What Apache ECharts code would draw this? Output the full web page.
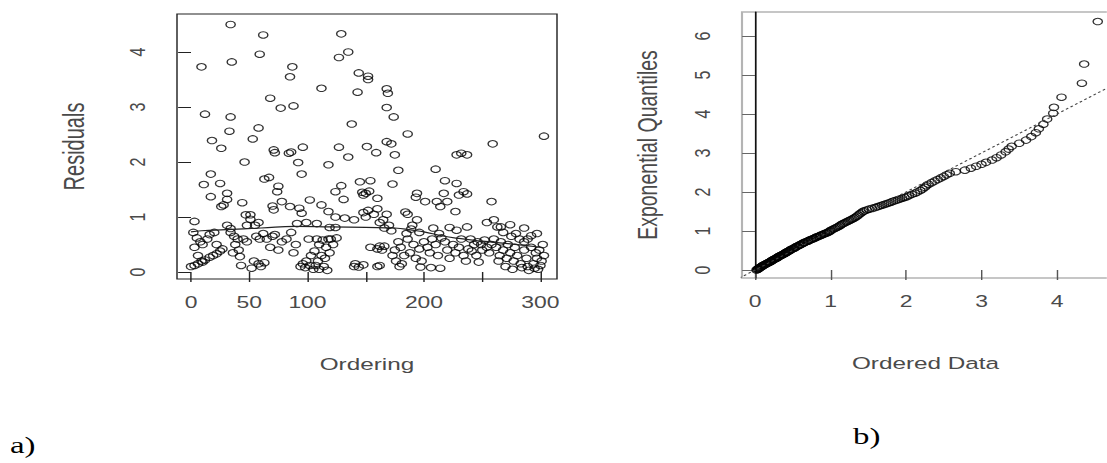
<!DOCTYPE html>
<html><head><meta charset="utf-8">
<script src="https://cdn.jsdelivr.net/npm/echarts@6/dist/echarts.min.js"></script>
<style>
html,body{margin:0;padding:0;background:#fff;overflow:hidden;width:1107px;height:463px}
#c{position:absolute;left:0;top:0;height:463px;transform-origin:0 0}
</style></head><body><div id="c"></div>
<script>
// ---- data (a) residuals vs ordering ----
const residualPoints = [
[34,4.5],[62,4.31],[129,4.33],[59,3.96],[135,4.0],[127,3.9],[9,3.73],[35,3.82],[87,3.73],[85,3.55],[144,3.62],[152,3.56],[152,3.5],[112,3.34],[143,3.27],[168,3.33],[169,3.25],[68,3.16],[77,2.98],[88,3.02],[12,2.87],[34,2.82],[168,2.99],[174,2.82],[58,2.62],[33,2.56],[138,2.69],[53,2.42],[18,2.39],[26,2.25],[168,2.37],[172,2.33],[186,2.51],[303,2.47],[259,2.33],[151,2.28],
[71,2.22],[72,2.17],[84,2.16],[86,2.18],[96,2.27],[92,1.99],[95,1.78],[127,2.27],[135,2.09],[159,2.17],[46,2.0],[118,1.95],[17,1.78],[11,1.59],[25,1.61],[17,1.37],[31,1.43],[31,1.32],[26,1.19],[28,1.22],[63,1.69],[67,1.72],[75,1.56],[74,1.46],[44,1.26],[47,1.04],[51,1.04],[48,0.85],[70,1.2],[71,1.13],[78,1.28],[85,1.19],[93,1.16],[95,1.07],[102,1.31],[112,1.22],[118,1.1],[124,1.0],[124,1.46],[129,1.57],[131,1.32],[145,1.64],[148,1.4],[153,1.47],[175,2.13],[178,1.85],[228,2.13],[232,2.16],[237,2.13],[210,1.87],[218,1.66],[228,1.61],[154,1.66],[173,1.6],[147,1.45],[150,1.43],[230,1.4],[234,1.46],[237,1.42],[258,1.28],[160,1.34],[194,1.43],[193,1.36],[201,1.28],[211,1.28],[217,1.43],[220,1.28],[214,1.19],[227,1.1],
[3,0.92],[31,0.85],[34,0.79],[51,0.96],[55,0.85],[58,0.9],[91,0.88],[99,0.9],[108,0.88],[119,0.81],[124,0.81],[132,0.98],[140,0.95],
[2,0.72],[5,0.62],[8,0.55],[10,0.5],[14,0.6],[16,0.68],[20,0.72],[22,0.5],[3,0.45],[6,0.3],[9,0.2],[0,0.1],[3,0.12],[6,0.15],[10,0.18],[12,0.22],[16,0.27],[19,0.3],[22,0.33],[25,0.38],[27,0.42],
[34,0.72],[37,0.65],[40,0.6],[38,0.5],[41,0.4],[42,0.28],[43,0.12],[36,0.35],
[45,0.6],[48,0.55],[56,0.65],[62,0.7],[59,0.6],[65,0.6],[70,0.65],[72,0.68],[68,0.45],[75,0.4],[78,0.55],[82,0.6],[54,0.2],[58,0.15],[63,0.17],[60,0.1],[52,0.07],
[86,0.72],[90,0.5],[88,0.35],
[101,0.6],[108,0.6],[110,0.5],[106,0.38],[103,0.3],[99,0.2],[96,0.15],[94,0.1],[98,0.08],[102,0.12],[105,0.05],[113,0.58],[118,0.6],[116,0.45],[112,0.3],[109,0.2],[107,0.12],[110,0.05],[120,0.6],[125,0.62],[122,0.5],[119,0.35],[115,0.25],[114,0.1],[117,0.03],[140,0.1],[144,0.09],[160,0.1],[154,0.45],[160,0.42],[164,0.4],[166,0.47],[150,1.0],[157,1.05],[160,1.15],[162,0.9],[165,0.95],[168,1.05],[170,0.85],[166,0.8],
[148,1.08],[152,1.12],[184,1.09],[186,1.05],[194,0.95],[190,0.85],[189,0.78],
[254,0.9],[260,0.95],[266,0.82],[274,0.86],[286,0.8],[297,0.7],[292,0.66],
[208,0.8],[222,0.81],[228,0.76],[237,0.82],[213,0.7],[172,0.75],[185,0.7],[196,0.72],[162,0.47],
[141,0.15],[148,0.13],[162,0.12],[179,0.1],[181,0.15],[197,0.09],[206,0.08],[214,0.07],
[240,0.6],[246,0.55],[249,0.5],[252,0.58],[254,0.45],
[265,0.3],[271,0.25],[277,0.2],[283,0.15],[289,0.1],[295,0.07],[300,0.12],[297,0.25],[303,0.3],[299,0.4],
[200,0.55],[203,0.45],[205,0.35],[207,0.6],[210,0.5],[212,0.3],[215,0.62],[218,0.55],[220,0.4],[222,0.25],[225,0.5],[227,0.35],[230,0.45],[232,0.6],[234,0.3],[236,0.2],[238,0.42],[241,0.38],[243,0.5],[245,0.3],[247,0.18],[250,0.4],[256,0.35],[258,0.5],[260,0.6],[262,0.45],[264,0.2],[266,0.55],[268,0.4],[270,0.1],[272,0.5],[274,0.35],[276,0.05],[278,0.45],[280,0.3],[282,0.6],[284,0.08],[286,0.4],[288,0.25],[290,0.03],[292,0.45],[294,0.15],[296,0.35],[298,0.05],[301,0.2],[302,0.5],[286,0.55],[279,0.7],[268,0.72],[263,0.82],[275,0.65],[289,0.6],
[175,0.4],[178,0.55],[180,0.45],[183,0.3],[186,0.6],[188,0.35],[191,0.5],[193,0.25],[196,0.42],[198,0.2],[173,0.3],[176,0.2]
];
const smoothLine = [[0,0.73],[9,0.75],[30,0.77],[60,0.8],[90,0.83],[120,0.82],[150,0.81],[175,0.8],[190,0.76],[200,0.73],[215,0.66],[230,0.61],[250,0.56],[270,0.52],[300,0.45]];
const xTicksA = [0,50,100,150,200,250,300];
const xLabelsA = [0,50,100,200,300];
const yTicksA = [0,1,2,3,4];

// ---- data (b) exponential QQ plot ----
const orderedData = [
0.02,0.03,0.04,0.04,0.05,0.06,0.06,0.07,0.08,0.09,0.10,0.10,0.11,0.12,0.13,0.14,0.15,0.16,0.17,0.18,0.19,0.20,0.21,0.22,0.22,0.23,0.24,0.25,0.26,0.27,0.28,0.29,0.30,0.30,0.31,0.32,0.33,0.34,0.35,0.36,0.37,0.38,0.39,0.40,0.41,0.41,0.42,0.43,0.44,0.45,
0.46,0.47,0.48,0.49,0.51,0.52,0.53,0.54,0.55,0.56,0.58,0.59,0.60,0.61,0.63,0.64,0.65,0.66,0.68,0.70,0.71,0.72,0.74,0.75,0.77,0.78,0.80,0.81,0.82,0.84,0.86,0.87,0.88,0.90,0.92,0.93,0.95,0.96,0.98,0.99,
1.00,1.02,1.04,1.06,1.08,1.10,1.12,1.13,1.15,1.17,1.19,1.21,1.23,1.25,1.27,1.29,1.31,1.33,1.35,1.37,1.39,1.41,1.43,1.45,1.48,1.51,1.55,1.59,1.62,1.65,1.68,1.71,1.74,1.77,1.80,1.83,1.86,1.89,1.92,1.95,1.98,2.01,2.04,2.08,2.12,
2.15,2.19,2.22,2.25,2.27,2.30,2.34,2.38,2.42,2.46,2.50,2.54,2.58,2.66,2.78,2.86,2.93,3.00,3.06,3.14,3.20,3.26,
3.32,3.36,3.40,3.50,3.59,3.66,3.72,3.76,3.82,3.87,3.95,3.96,4.06,4.33,4.36,4.54
];
const expQuantiles = [
0.00,0.01,0.02,0.03,0.04,0.05,0.06,0.07,0.08,0.09,0.10,0.11,0.12,0.13,0.14,0.15,0.16,0.17,0.18,0.19,0.20,0.21,0.22,0.23,0.24,0.25,0.26,0.27,0.28,0.29,0.30,0.31,0.32,0.33,0.34,0.35,0.36,0.37,0.38,0.39,0.40,0.41,0.42,0.43,0.44,0.45,0.46,0.47,0.48,0.49,
0.50,0.51,0.53,0.54,0.55,0.56,0.58,0.59,0.60,0.61,0.63,0.64,0.65,0.66,0.68,0.69,0.70,0.71,0.73,0.74,0.75,0.76,0.78,0.79,0.80,0.81,0.83,0.84,0.85,0.86,0.88,0.89,0.90,0.91,0.93,0.94,0.95,0.96,0.98,0.99,
1.01,1.03,1.05,1.07,1.09,1.11,1.13,1.15,1.17,1.19,1.21,1.23,1.25,1.27,1.29,1.31,1.33,1.35,1.38,1.41,1.44,1.47,1.50,1.52,1.54,1.56,1.58,1.60,1.62,1.64,1.66,1.68,1.70,1.72,1.74,1.76,1.78,1.80,1.82,1.84,1.86,1.88,1.91,1.94,1.97,
2.00,2.04,2.08,2.12,2.16,2.20,2.24,2.28,2.32,2.36,2.40,2.44,2.48,2.52,2.56,2.61,2.66,2.71,2.76,2.82,2.88,2.95,
3.03,3.10,3.17,3.25,3.33,3.42,3.52,3.62,3.74,3.87,4.02,4.17,4.43,4.79,5.28,6.37
];
const refLine = [[-1,-1],[7,7]];
const xTicksB = [0,1,2,3,4];
const yTicksB = [0,1,2,3,4,5,6];

// ---- layout (page is horizontally stretched like the reference) ----
const S = 1.43;
const ux = px => px / S;
const el = document.getElementById('c');
el.style.width = (1107 / S) + 'px';
el.style.transform = 'scaleX(' + S + ')';
const chart = echarts.init(el, null, {renderer: 'svg'});

const FONT = '"Liberation Sans", Arial, sans-serif';
const TXT = '#4a4a4a';
const tickLabel = {fontSize: 16, color: TXT, fontFamily: FONT};
const circle = {color: 'transparent', borderColor: '#000', borderWidth: 1};

chart.setOption({
  animation: false,
  textStyle: {fontFamily: FONT},
  grid: [
    {left: ux(177), top: 14, width: ux(380), height: 265, show: true, borderColor: '#222', borderWidth: 1, outerBoundsMode: 'none'},
    {left: ux(742), top: 12, width: ux(367), height: 266, show: true, borderColor: '#b4b4b4', borderWidth: 1.5, outerBoundsMode: 'none'}
  ],
  xAxis: [
    {gridIndex: 0, type: 'value', min: -12.02, max: 314.2, splitLine: {show: false},
     axisLine: {show: false},
     axisTick: {show: true, customValues: xTicksA, length: 10, lineStyle: {color: '#222'}},
     axisLabel: Object.assign({customValues: xLabelsA, margin: 15}, tickLabel),
     name: 'Ordering', nameLocation: 'middle', nameGap: 76,
     nameTextStyle: {fontSize: 17, color: TXT, fontFamily: FONT}},
    {gridIndex: 1, type: 'value', min: -0.172, max: 4.689, splitLine: {show: false},
     axisLine: {show: false},
     axisTick: {show: true, customValues: xTicksB, length: 10, lineStyle: {color: '#555'}},
     axisLabel: Object.assign({customValues: xTicksB, margin: 15}, tickLabel),
     name: 'Ordered Data', nameLocation: 'middle', nameGap: 76,
     nameTextStyle: {fontSize: 17, color: TXT, fontFamily: FONT}}
  ],
  yAxis: [
    {gridIndex: 0, type: 'value', min: -0.127, max: 4.691, splitLine: {show: false},
     axisLine: {show: false},
     axisTick: {show: true, customValues: yTicksA, length: 9, lineStyle: {color: '#222'}},
     axisLabel: Object.assign({customValues: yTicksA, rotate: 90, margin: 20}, tickLabel),
     name: 'Residuals', nameLocation: 'middle', nameGap: 62, nameRotate: 90,
     nameTextStyle: {fontSize: 20, color: TXT, fontFamily: FONT}},
    {gridIndex: 1, type: 'value', min: -0.205, max: 6.615, splitLine: {show: false},
     axisLine: {show: true, lineStyle: {color: '#111', width: 1.2}},
     axisTick: {show: true, customValues: yTicksB, length: 9, lineStyle: {color: '#666'}},
     axisLabel: Object.assign({customValues: yTicksB, rotate: 90, margin: 20}, tickLabel),
     name: 'Exponential Quantiles', nameLocation: 'middle', nameGap: 56, nameRotate: 90,
     nameTextStyle: {fontSize: 19.5, color: TXT, fontFamily: FONT}}
  ],
  series: [
    {type: 'scatter', xAxisIndex: 0, yAxisIndex: 0, data: residualPoints,
     symbol: 'circle', symbolSize: 6.5, itemStyle: circle, silent: true, clip: false},
    {type: 'line', xAxisIndex: 0, yAxisIndex: 0, data: smoothLine, showSymbol: false, smooth: true,
     lineStyle: {color: '#222', width: 1.2}, silent: true},
    {type: 'line', xAxisIndex: 1, yAxisIndex: 1, data: refLine, showSymbol: false,
     lineStyle: {color: '#444', width: 1, type: [2, 2]}, silent: true, clip: true},
    {type: 'scatter', xAxisIndex: 1, yAxisIndex: 1,
     data: orderedData.map((v, i) => [v, expQuantiles[i]]),
     symbol: 'circle', symbolSize: 6.5, itemStyle: circle, silent: true, clip: false}
  ],
  graphic: [
    {type: 'text', left: ux(10), top: 434, style: {text: 'a)', font: '23px "Liberation Serif", "Times New Roman", serif', fill: '#000'}},
    {type: 'text', left: ux(853), top: 425, style: {text: 'b)', font: '23px "Liberation Serif", "Times New Roman", serif', fill: '#000'}}
  ]
});
</script></body></html>
